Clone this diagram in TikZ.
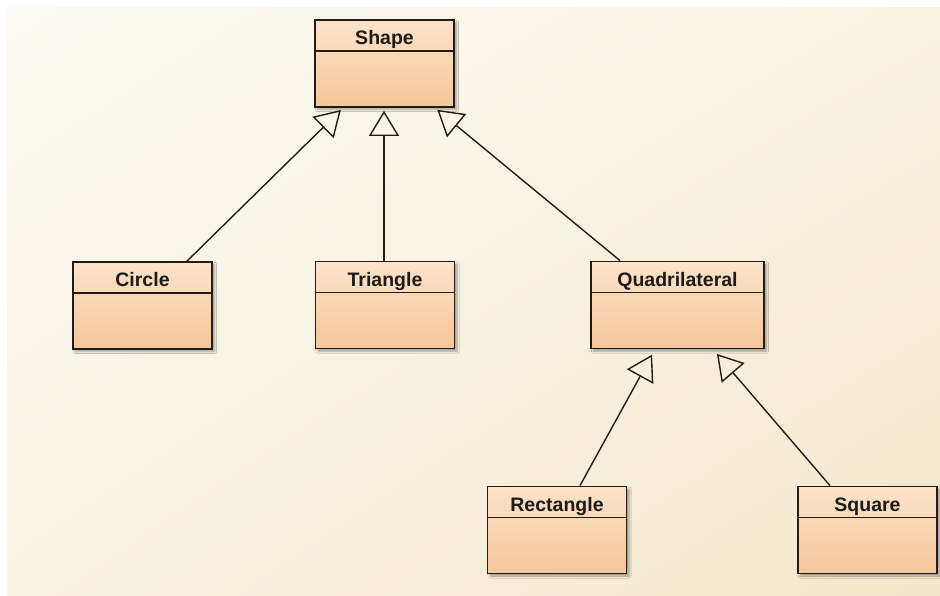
\documentclass[tikz,border=0pt]{standalone}
\usepackage{fontspec}
\setmainfont{Liberation Sans}
\usetikzlibrary{arrows.meta,shadows.blur,shadings}
\definecolor{bgA}{HTML}{FDFBF4}
\definecolor{bgB}{HTML}{F8F2E2}
\definecolor{bgC}{HTML}{F2E8CD}
\definecolor{boxTop}{HTML}{FBE3CA}
\definecolor{boxBot}{HTML}{F5C69B}
\definecolor{boxLine}{HTML}{261A14}
\definecolor{txt}{HTML}{1E1A18}
\begin{document}
\begin{tikzpicture}[x=1pt,y=-1pt,
  umlclass/.style={draw=boxLine, line width=1.8pt, top color=boxTop, bottom color=boxBot,
    minimum width=139pt, inner xsep=0pt, inner ysep=0pt,
    text height=24.7pt, text depth=62.3pt, text=txt,
    font=\fontsize{19.5}{22}\selectfont\bfseries,
    blur shadow={shadow xshift=2.5pt, shadow yshift=-2.5pt, shadow blur steps=6, shadow opacity=35},
    path picture={\draw[boxLine, line width=1.8pt]
      ([yshift=-31pt]path picture bounding box.north west) --
      ([yshift=-31pt]path picture bounding box.north east);}},
  inherit/.style={draw=boxLine, line width=1.4pt,
    -{Triangle[open, length=25pt, width=30pt, line width=1.4pt]}}
]
\useasboundingbox (0,0) rectangle (940,595);
\fill[white] (0,0) rectangle (940,595);
\shade[upper left=bgA, upper right=bgB, lower left=bgB, lower right=bgC] (7,7) rectangle (940,595);

\node[umlclass] (shape) at (384.5,63.5) {Shape};
\node[umlclass] (circle) at (142.5,305.5) {Circle};
\node[umlclass] (triangle) at (385,305) {Triangle};
\node[umlclass, minimum width=173pt] (quad) at (677.5,305) {Quadrilateral};
\node[umlclass] (rect) at (557,530) {Rectangle};
\node[umlclass] (square) at (867.5,530) {Square};

\draw[inherit, shorten >=3pt] ([xshift=44.5pt]circle.north) -- ([xshift=-41.5pt]shape.south);
\draw[inherit, shorten >=3pt] ([xshift=-1pt]triangle.north) -- ([xshift=-0.5pt]shape.south);
\draw[inherit, shorten >=3pt] ([xshift=-57.5pt]quad.north) -- ([xshift=50.5pt]shape.south);
\draw[inherit, shorten >=6pt] ([xshift=23pt]rect.north) -- ([xshift=-22.5pt]quad.south);
\draw[inherit, shorten >=6pt] ([xshift=-37.5pt]square.north) -- ([xshift=35.5pt]quad.south);
\end{tikzpicture}
\end{document}
